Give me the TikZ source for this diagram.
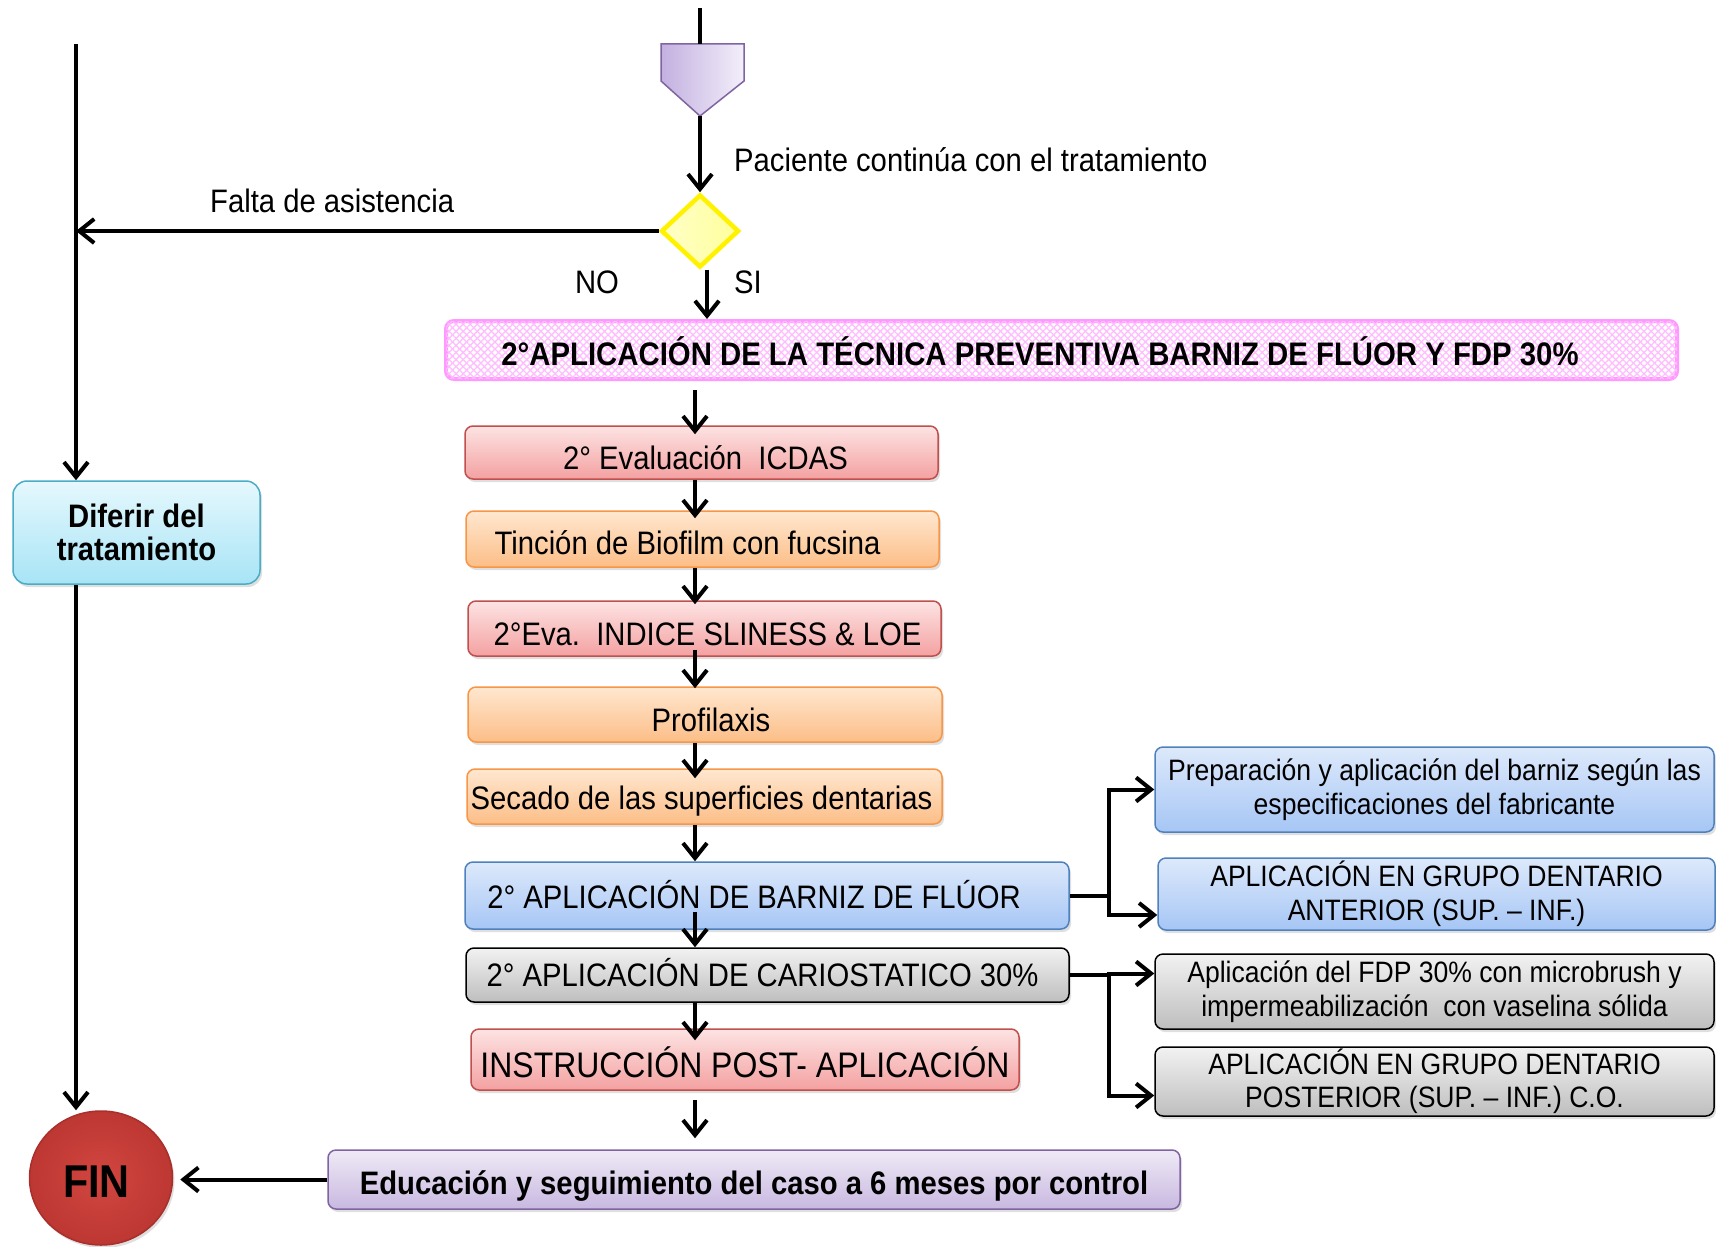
\documentclass[tikz,border=0pt]{standalone}
\usepackage{fontspec}
\setmainfont[FakeStretch=0.9]{Liberation Sans}
\usetikzlibrary{arrows.meta,shapes.geometric,shadows,patterns,patterns.meta,calc}
\definecolor{redtop}{HTML}{FDE3E3}
\definecolor{redbot}{HTML}{F4A1A1}
\definecolor{redline}{HTML}{C0504D}
\definecolor{orgtop}{HTML}{FFE7D0}
\definecolor{orgbot}{HTML}{FCBE87}
\definecolor{orgline}{HTML}{F79646}
\definecolor{blutop}{HTML}{DDE9FB}
\definecolor{blubot}{HTML}{A6C6F5}
\definecolor{bluline}{HTML}{4F81BD}
\definecolor{grytop}{HTML}{F2F2F2}
\definecolor{grybot}{HTML}{BEBEBE}
\definecolor{purtop}{HTML}{EFEAF6}
\definecolor{purbot}{HTML}{C8B8E0}
\definecolor{purline}{HTML}{8064A2}
\definecolor{cyntop}{HTML}{E5F8FD}
\definecolor{cynbot}{HTML}{A8E4F6}
\definecolor{cynline}{HTML}{4BACC6}
\definecolor{pinkline}{HTML}{FF99FF}
\definecolor{pinkpat}{HTML}{FFBDFF}
\definecolor{finred}{HTML}{D2463F}
\definecolor{finout}{HTML}{BD3733}
\definecolor{finedge}{HTML}{A8302C}
\definecolor{pentL}{HTML}{C3B0E0}
\definecolor{pentR}{HTML}{F3EFFA}
\definecolor{diaL}{HTML}{FFFFC8}
\definecolor{diaR}{HTML}{FFFF9C}
\tikzset{
  x=1pt, y=-1pt,
  box/.style={rectangle, rounded corners=8pt, line width=1.5pt, inner sep=0pt,
    drop shadow={opacity=0.25, shadow xshift=2pt, shadow yshift=-3pt},
    font=\fontsize{32.5}{36}\selectfont, text height=33pt, text depth=0pt},
  redbox/.style={box, draw=redline, top color=redtop, bottom color=redbot},
  orgbox/.style={box, draw=orgline, top color=orgtop, bottom color=orgbot},
  blubox/.style={box, draw=bluline, top color=blutop, bottom color=blubot},
  grybox/.style={box, draw=black, top color=grytop, bottom color=grybot},
  purbox/.style={box, draw=purline, top color=purtop, bottom color=purbot},
  sidebox/.style={align=center, font=\fontsize{29.5}{33.5}\selectfont, text height=, text depth=},
  lbl/.style={font=\fontsize{32.5}{36}\selectfont, inner sep=0pt},
  ln/.style={line width=4pt},
  arr/.style={line width=4pt, -{Straight Barb[length=15pt,width=24pt]}},
}
\begin{document}
\begin{tikzpicture}
\fill[white] (0,0) rectangle (1716,1247);
\useasboundingbox (0,0) rectangle (1716,1247);

% off-page connector
\coordinate (start) at (700,8);
\coordinate (pentop) at (700,44);
\coordinate (pentip) at (700,116);
\path[draw=purline, line width=1.5pt, left color=pentL, right color=pentR]
  (661,44) -- (744,44) -- (744,81) -- (pentip) -- (661,81) -- cycle;
\draw[ln] (start) -- (pentop);

% decision
\node[diamond, minimum width=78pt, minimum height=73pt, inner sep=0pt,
  draw=yellow, line width=4.5pt, left color=diaL, right color=diaR] (dia) at (700,231) {};
\draw[arr] (pentip) -- (dia.north);

\node[lbl, anchor=west] (lpac) at (734,160) {Paciente continúa con el tratamiento};
\node[lbl, anchor=west] (lfal) at (210,201) {Falta de asistencia};
\node[lbl] (lno) at (597,282) {NO};
\node[lbl] (lsi) at (748,282) {SI};

% pink title
\node[rectangle, rounded corners=8pt, draw=pinkline, line width=4pt, fill=white,
  minimum width=1231pt, minimum height=58pt, inner sep=0pt] (pinkbg) at (1061.5,350) {};
\path[rounded corners=6pt, pattern={Lines[angle=45,distance=5pt,line width=1.3pt]}, pattern color=pinkpat]
  ([shift={(2pt,-2pt)}]pinkbg.north west) rectangle ([shift={(-2pt,2pt)}]pinkbg.south east);
\path[rounded corners=6pt, pattern={Lines[angle=-45,distance=5pt,line width=1.3pt]}, pattern color=pinkpat]
  ([shift={(2pt,-2pt)}]pinkbg.north west) rectangle ([shift={(-2pt,2pt)}]pinkbg.south east);
\node[font=\bfseries\fontsize{32.6}{36}\selectfont, inner sep=0pt, text height=30pt, text depth=0pt] (pink) at (1040,350)
  {2°APLICACIÓN DE LA TÉCNICA PREVENTIVA BARNIZ DE FLÚOR Y FDP 30\%};
\draw[arr] ([xshift=7pt]dia.south) -- ([xshift=7pt]dia.south |- pinkbg.north);

% main chain
\node[redbox, minimum width=473pt, minimum height=53pt] (eval) at (701.5,452.5) {\hspace*{8pt}2° Evaluación\ \ ICDAS};
\node[orgbox, minimum width=473pt, minimum height=56pt, text height=30pt] (tin) at (702.5,539) {\hspace*{-30pt}Tinción de Biofilm con fucsina};
\node[redbox, minimum width=473pt, minimum height=55pt] (sli) at (704.5,628.5) {\hspace*{6pt}2°Eva.\ \ INDICE SLINESS \& LOE};
\node[orgbox, minimum width=474pt, minimum height=55pt] (pro) at (705,714.5) {\hspace*{12pt}Profilaxis};
\node[orgbox, minimum width=475pt, minimum height=55pt, text height=26pt] (sec) at (704.5,796.5) {\hspace*{-6pt}Secado de las superficies dentarias};
\node[blubox, minimum width=604pt, minimum height=67pt, text height=26pt] (bar) at (767,895.5) {\hspace*{-26pt}2° APLICACIÓN DE BARNIZ DE FLÚOR};
\node[grybox, minimum width=603pt, minimum height=54pt, text height=23pt] (car) at (767.5,975) {\hspace*{-10pt}2° APLICACIÓN DE CARIOSTATICO 30\%};
\node[redbox, minimum width=548pt, minimum height=61pt, font=\fontsize{35.5}{38}\selectfont, text height=36pt] (ins) at (745,1059.5) {INSTRUCCIÓN POST- APLICACIÓN};
\node[purbox, minimum width=852pt, minimum height=59pt, font=\bfseries\fontsize{32.5}{36}\selectfont, text height=30pt] (educ) at (754,1179.5) {Educación y seguimiento del caso a 6 meses por control};

\coordinate (ax) at (695,0);
\draw[arr, shorten <=9pt, shorten >=-9pt] (pinkbg.south -| ax) -- (eval.north -| ax);
\draw[arr, shorten >=-8pt] (eval.south -| ax) -- (tin.north -| ax);
\draw[arr, shorten >=-4pt] (tin.south -| ax) -- (sli.north -| ax);
\draw[arr, shorten >=-2pt] ([yshift=7pt]sli.south -| ax) -- (pro.north -| ax);
\draw[arr, shorten >=-10pt] (pro.south -| ax) -- (sec.north -| ax);
\draw[arr] (sec.south -| ax) -- (bar.north -| ax);
\draw[arr] ([yshift=18pt]bar.south -| ax) -- (car.north -| ax);
\draw[arr, shorten >=-12pt] (car.south -| ax) -- (ins.north -| ax);
\draw[arr, shorten <=9pt, shorten >=11pt] (ins.south -| ax) -- (educ.north -| ax);

% side boxes
\node[blubox, sidebox, minimum width=559pt, minimum height=85pt] (prep) at (1434.5,789.5)
  {Preparación y aplicación del barniz según las\\especificaciones del fabricante};
\node[blubox, sidebox, minimum width=557pt, minimum height=72pt] (ant) at (1436.5,894)
  {APLICACIÓN EN GRUPO DENTARIO\\ANTERIOR (SUP. – INF.)};
\node[grybox, sidebox, minimum width=559pt, minimum height=75pt] (fdp) at (1434.5,991.5)
  {Aplicación del FDP 30\% con microbrush y\\impermeabilización\ \ con vaselina sólida};
\node[grybox, sidebox, minimum width=559pt, minimum height=69pt] (post) at (1434.5,1081.5)
  {APLICACIÓN EN GRUPO DENTARIO\\POSTERIOR (SUP. – INF.) C.O.};

\coordinate (j) at (1109,0);
\draw[ln] (bar.east) -- (bar.east -| j);
\draw[arr] (bar.east -| j) |- (prep.west);
\draw[arr] (bar.east -| j) |- ([yshift=-21pt]ant.west);
\draw[ln] (car.east) -- (car.east -| j);
\draw[arr] (car.east -| j) |- ([yshift=18pt]fdp.west);
\draw[arr] (car.east -| j) |- ([yshift=-14pt]post.west);

% left branch
\node[rectangle, rounded corners=14pt, line width=1.5pt, draw=cynline, top color=cyntop, bottom color=cynbot,
  drop shadow={opacity=0.25, shadow xshift=2pt, shadow yshift=-3pt},
  minimum width=247pt, minimum height=103pt, inner sep=0pt, align=center,
  font=\bfseries\fontsize{32.5}{33}\selectfont] (dif) at (136.5,532.5) {Diferir del\\tratamiento};
\node[ellipse, minimum width=143pt, minimum height=134pt, draw=finedge, line width=1.5pt,
  inner color=finred, outer color=finout, inner sep=0pt,
  drop shadow={opacity=0.25, shadow xshift=2pt, shadow yshift=-3pt},
  font=\bfseries\fontsize{46}{48}\selectfont, text height=38pt, text depth=0pt] (fin) at (101,1178) {\hspace*{-9pt}FIN};

\coordinate (ltop) at (76,44);
\draw[arr] (dia.west) -- (dia.west -| ltop);
\draw[arr] (ltop) -- (ltop |- dif.north);
\draw[arr] (dif.south -| ltop) -- (fin.north -| ltop);
\draw[arr, shorten >=7pt] (educ.west) -- (fin.east |- educ.west);
\end{tikzpicture}
\end{document}
